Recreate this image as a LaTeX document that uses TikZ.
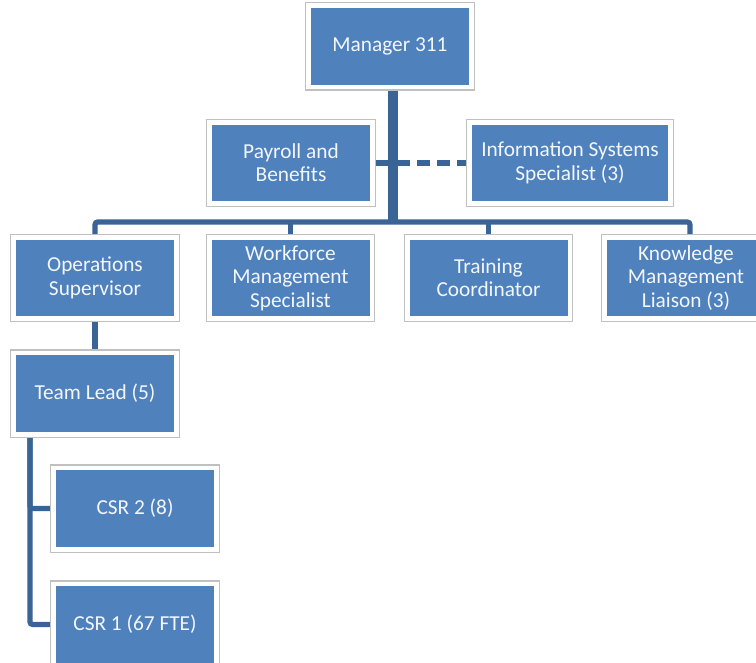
\documentclass[tikz,border=0pt]{standalone}
\usepackage{fontspec}
\setmainfont{Carlito}
\usetikzlibrary{backgrounds}

\definecolor{boxblue}{RGB}{79,129,189}
\definecolor{lineblue}{RGB}{58,99,150}
\definecolor{framegray}{RGB}{192,192,192}

\tikzset{
  orgbox/.style={fill=boxblue, draw=white, line width=3.4pt,
    preaction={draw=framegray, line width=5.1pt},
    minimum width=121.9pt, minimum height=61.1pt, inner sep=2pt,
    align=center, text=white!93!boxblue,
    font=\fontsize{16}{17.5}\selectfont},
  link/.style={draw=lineblue, line width=3.9pt},
}

\begin{document}
\begin{tikzpicture}[x=0.75pt, y=-0.75pt]
\path[use as bounding box] (0,0) rectangle (756,663);
\clip (0,0) rectangle (756,663);

% top of the chart
\node[orgbox] (mgr)  at (390,46.5) {Manager 311};
\node[orgbox] (pay)  at (291,163) {Payroll and\\Benefits};
\node[orgbox, minimum width=150.4pt] (isys) at (570,163) {Information Systems\\Specialist (3)};

% second row
\node[orgbox] (ops)  at (95,278)    {Operations\\Supervisor};
\node[orgbox] (wfm)  at (290.5,278) {Workforce\\Management\\Specialist};
\node[orgbox] (trn)  at (488.5,278) {Training\\Coordinator};
\node[orgbox] (kml)  at (686,278)   {Knowledge\\Management\\Liaison (3)};

% operations branch
\node[orgbox] (lead) at (95,393.5)  {Team Lead (5)};
\node[orgbox] (csr2) at (135,508.5) {CSR 2 (8)};
\node[orgbox] (csr1) at (135,624.5) {CSR 1 (67 FTE)};

\coordinate (hub) at (393,222);
\coordinate (spine) at (30,630);

\begin{scope}[on background layer]
  \draw[link, line width=7pt] (mgr.south -| hub) -- (hub);
  \draw[link, rounded corners=2pt] (ops.north) |- (hub) -| ([xshift=3pt]kml.north);
  \draw[link] (wfm.north) -- (wfm.north |- hub);
  \draw[link] (trn.north) -- (trn.north |- hub);
  \draw[link] (pay.east) -- (pay.east -| hub);
  \draw[link, dash pattern=on 10pt off 5pt] (pay.east -| hub) ++(4,0) -- (isys.west);
  \draw[link] (ops.south) -- (lead.north);
  \draw[link, rounded corners=2pt] (lead.south -| spine) |- (csr2.west);
  \draw[link, rounded corners=2pt] (lead.south -| spine) |- (csr1.west);
\end{scope}
\end{tikzpicture}
\end{document}
